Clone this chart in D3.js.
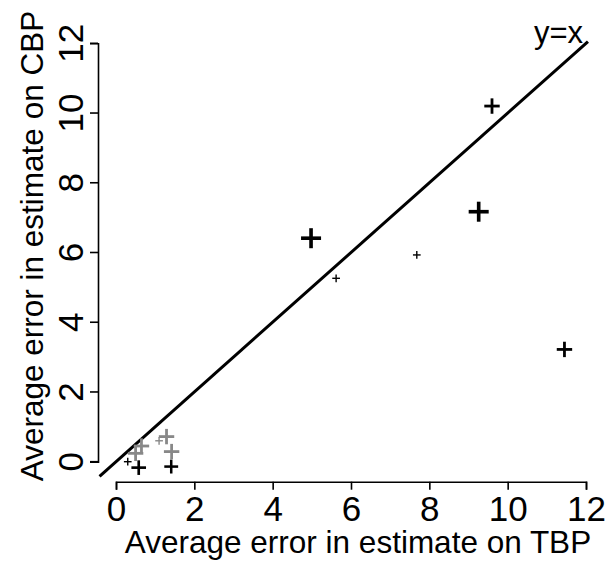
<!DOCTYPE html>
<html>
<head>
<meta charset="utf-8">
<script src="https://cdn.jsdelivr.net/npm/d3@7"></script>
<style>
  body { margin: 0; background: #fff; }
  text { font-family: "Liberation Sans", Arial, sans-serif; }
</style>
</head>
<body>
<div id="chart"></div>
<script>
// data
const tbp    = [0.65, 0.5, 1.29, 1.1, 1.42, 4.98, 9.26, 9.6, 11.45, 5.62, 7.68, 0.58, 0.3, 1.41];
const cbp    = [0.45, 0.24, 0.72, 0.6, 0.29, 6.41, 7.17, 10.2, 3.22, 5.26, 5.93, -0.17, 0.0, -0.14];
const weight = [1.0, 1.0, 1.0, 0.5, 1.0, 1.3, 1.3, 1.0, 1.0, 0.5, 0.5, 0.95, 0.5, 0.9];
const group  = ["g", "g", "g", "g", "g", "b", "b", "b", "b", "b", "b", "b", "b", "b"];
const ticks  = [0, 2, 4, 6, 8, 10, 12];
const diag   = [-0.42, 12.05];

const width = 606, height = 561;

const svg = d3.select("#chart").append("svg")
    .attr("width", width)
    .attr("height", height);

const x = d3.scaleLinear().domain([0, 12]).range([116, 586]);
const y = d3.scaleLinear().domain([0, 12]).range([461.7, 43.3]);
const armLen = d3.scaleLinear().domain([0, 1]).range([0, 7.7]);
const armW = d3.scaleLinear().domain([0, 1]).range([0, 2.8]);

// x axis
const xAxis = svg.append("g")
    .attr("transform", "translate(0,481.7)")
    .call(d3.axisBottom(x).tickValues(ticks).tickSizeOuter(0).tickSize(8).tickPadding(6));
xAxis.selectAll("text").attr("font-size", 35).attr("fill", "#000")
    .attr("dy", "0.71em");

// y axis, labels turned like R's default las=0
const yAxis = svg.append("g")
    .attr("transform", "translate(98,0)")
    .call(d3.axisLeft(y).tickValues(ticks).tickSizeOuter(0).tickSize(8).tickPadding(6));
yAxis.selectAll("text")
    .attr("font-size", 35).attr("fill", "#000")
    .attr("text-anchor", "middle")
    .attr("dy", 0)
    .attr("x", 0)
    .attr("y", 0)
    .attr("transform", d => "translate(-15," + y(d) + ") rotate(-90)");
yAxis.selectAll(".tick").attr("transform", null);
yAxis.selectAll(".tick line").attr("transform", d => "translate(0," + y(d) + ")");

svg.selectAll(".domain, .tick line")
    .attr("stroke", "#000")
    .attr("stroke-width", 1.6);

// titles
svg.append("text")
    .attr("x", 358)
    .attr("y", 553)
    .attr("text-anchor", "middle")
    .attr("font-size", 31.5)
    .text("Average error in estimate on TBP");

svg.append("text")
    .attr("transform", "translate(43,246) rotate(-90)")
    .attr("text-anchor", "middle")
    .attr("font-size", 31.5)
    .text("Average error in estimate on CBP");

// y = x line
svg.append("line")
    .attr("x1", x(diag[0])).attr("y1", y(diag[0]))
    .attr("x2", x(diag[1])).attr("y2", y(diag[1]))
    .attr("stroke", "#000")
    .attr("stroke-width", 3);

svg.append("text")
    .attr("x", x(11.3))
    .attr("y", y(12))
    .attr("text-anchor", "middle")
    .attr("font-size", 31)
    .text("y=x");

// points as plus signs
const pts = tbp.map((d, i) => ({tx: d, cy: cbp[i], w: weight[i], g: group[i]}));

const marks = svg.append("g").selectAll("g")
    .data(pts)
    .enter()
    .append("g")
    .attr("transform", d => "translate(" + x(d.tx) + "," + y(d.cy) + ")")
    .attr("stroke", d => d.g == "g" ? "#888888" : "#000")
    .attr("stroke-width", d => armW(d.w));

marks.append("line")
    .attr("x1", d => -armLen(d.w)).attr("x2", d => armLen(d.w))
    .attr("y1", 0).attr("y2", 0);
marks.append("line")
    .attr("y1", d => -armLen(d.w)).attr("y2", d => armLen(d.w))
    .attr("x1", 0).attr("x2", 0);
</script>
</body>
</html>
